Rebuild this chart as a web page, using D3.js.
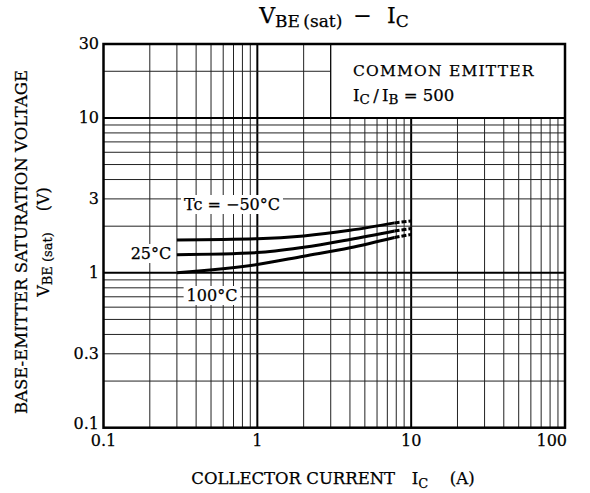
<!DOCTYPE html>
<html><head><meta charset="utf-8">
<script src="https://cdn.jsdelivr.net/npm/d3@7"></script>
<style>
body{margin:0;background:#fff;}
text{font-family:"DejaVu Serif",serif;fill:#000;stroke:#000;stroke-width:0.25px;}
</style></head>
<body><svg id="c" width="590" height="493"></svg>
<script>
// ---- data ----
const xTicks = [0.1, 1, 10, 100];
const xTickLabels = ["0.1", "1", "10", "100"];
const yTicks = [0.1, 0.3, 1, 3, 10, 30];
const yTickLabels = ["0.1", "0.3", "1", "3", "10", "30"];
const seriesNames = ["Tc = \u221250\u00B0C", "25\u00B0C", "100\u00B0C"];
const icSolid = [0.3, 1, 2, 4, 7.8];
const vbeM50 = [1.63, 1.66, 1.73, 1.88, 2.10];
const vbe25 = [1.31, 1.35, 1.46, 1.64, 1.86];
const vbe100 = [1.00, 1.13, 1.28, 1.45, 1.69];
const icDash = [7.8, 10];
const vbeM50Dash = [2.10, 2.16];
const vbe25Dash = [1.86, 1.93];
const vbe100Dash = [1.69, 1.77];

const svg = d3.select("#c");
const x = d3.scaleLog().domain([0.1, 100]).range([103.5, 565]);
const y = d3.scaleLog().domain([0.1, 30]).range([427.7, 44]);

// grid values
const gridX = [];
[0.1, 1, 10].forEach(d => { for (let k = 2; k <= 9; k++) gridX.push(+(d * k).toPrecision(3)); });
gridX.push(1, 10);
const gridY = [];
[0.1, 1].forEach(d => { for (let k = 2; k <= 9; k++) gridY.push(+(d * k).toPrecision(3)); });
gridY.push(1, 10, 20);
const isMajor = v => v === 1 || v === 10;

const g = svg.append("g");
g.selectAll("line.gx").data(gridX).join("line")
  .attr("x1", d => x(d)).attr("x2", d => x(d))
  .attr("y1", y(0.1)).attr("y2", y(30))
  .attr("stroke", d => isMajor(d) ? "#000" : "#222")
  .attr("stroke-width", d => isMajor(d) ? 2 : 1);
g.selectAll("line.gy").data(gridY).join("line")
  .attr("y1", d => y(d)).attr("y2", d => y(d))
  .attr("x1", x(0.1)).attr("x2", x(100))
  .attr("stroke", d => isMajor(d) ? "#000" : "#222")
  .attr("stroke-width", d => isMajor(d) ? 2 : 1);

// legend box (covers grid)
g.append("rect").attr("x", x(3)).attr("y", y(30)).attr("width", x(100) - x(3)).attr("height", y(10) - y(30))
  .attr("fill", "#fff").attr("stroke", "#000").attr("stroke-width", 1.2);
g.append("line").attr("x1", x(3)).attr("x2", x(100)).attr("y1", y(10)).attr("y2", y(10)).attr("stroke", "#000").attr("stroke-width", 2);
g.append("text").attr("x", 353).attr("y", 76).attr("font-size", 15.5).attr("letter-spacing", 1.2).text("COMMON EMITTER");
const lt = g.append("text").attr("x", 353).attr("y", 101).attr("font-size", 16.5);
lt.append("tspan").text("I");
lt.append("tspan").attr("font-size", 13.5).attr("dy", 3).text("C");
lt.append("tspan").attr("dy", -3).text("\u2009/\u2009I");
lt.append("tspan").attr("font-size", 13.5).attr("dy", 3).text("B");
lt.append("tspan").attr("dy", -3).text(" = 500");

// frame
svg.append("rect").attr("x", x(0.1)).attr("y", y(30)).attr("width", x(100) - x(0.1)).attr("height", y(0.1) - y(30))
  .attr("fill", "none").attr("stroke", "#000").attr("stroke-width", 2.5);

// curves
const line = d3.line().x(d => x(d[0])).y(d => y(d[1])).curve(d3.curveMonotoneX);
const solidSets = [vbeM50, vbe25, vbe100];
const dashSets = [vbeM50Dash, vbe25Dash, vbe100Dash];
solidSets.forEach(vals => {
  svg.append("path").attr("d", line(icSolid.map((c, i) => [c, vals[i]])))
    .attr("fill", "none").attr("stroke", "#000").attr("stroke-width", 3);
});
dashSets.forEach(vals => {
  svg.append("path").attr("d", line(icDash.map((c, i) => [c, vals[i]])))
    .attr("fill", "none").attr("stroke", "#000").attr("stroke-width", 3).attr("stroke-dasharray", "5,2");
});

// curve labels with white background
function label(txt, cx, cy, size) {
  const t = svg.append("text").attr("x", cx).attr("y", cy).attr("font-size", size).attr("text-anchor", "middle").text(txt);
  const b = t.node().getBBox();
  svg.insert("rect", () => t.node()).attr("x", b.x - 3).attr("y", b.y).attr("width", b.width + 6).attr("height", b.height).attr("fill", "#fff");
}
label(seriesNames[0], 232, 210, 16);
label(seriesNames[1], 151, 259, 16);
label(seriesNames[2], 212, 301, 16);

// tick labels
svg.selectAll("text.yt").data(yTicks).join("text")
  .attr("x", 99).attr("y", d => d === 0.1 ? y(d) + 1 : y(d) + 5).attr("text-anchor", "end").attr("font-size", 16)
  .text((d, i) => yTickLabels[i]);
svg.selectAll("text.xt").data(xTicks).join("text")
  .attr("x", (d, i) => i === 3 ? x(d) + 2 : x(d)).attr("y", 446)
  .attr("text-anchor", (d, i) => i === 3 ? "end" : "middle").attr("font-size", 16)
  .text((d, i) => xTickLabels[i]);

// title
const tt = svg.append("text").attr("x", 334).attr("y", 23).attr("text-anchor", "middle").attr("font-size", 22);
tt.append("tspan").text("V");
tt.append("tspan").attr("font-size", 17).attr("dy", 4).text("BE\u2009(sat)");
tt.append("tspan").attr("dy", -4).text("\u2002\u2212\u2002\u2009I");
tt.append("tspan").attr("font-size", 17).attr("dy", 4).text("C");

// x axis title
const xt = svg.append("text").attr("x", 333).attr("y", 484).attr("text-anchor", "middle").attr("font-size", 16.5);
xt.append("tspan").text("COLLECTOR CURRENT\u2003I");
xt.append("tspan").attr("font-size", 13).attr("dy", 4).text("C");
xt.append("tspan").attr("dy", -4).text("\u2003 (A)");

// y axis title
const yg = svg.append("g").attr("transform", "translate(27,242) rotate(-90)");
yg.append("text").attr("text-anchor", "middle").attr("font-size", 16.5).text("BASE-EMITTER SATURATION VOLTAGE");
const y2 = yg.append("text").attr("y", 22).attr("text-anchor", "middle").attr("font-size", 16);
y2.append("tspan").text("V");
y2.append("tspan").attr("font-size", 13).attr("dy", 3).text("BE (sat)");
y2.append("tspan").attr("dy", -3).text("\u2003 (V)");
</script></body></html>
